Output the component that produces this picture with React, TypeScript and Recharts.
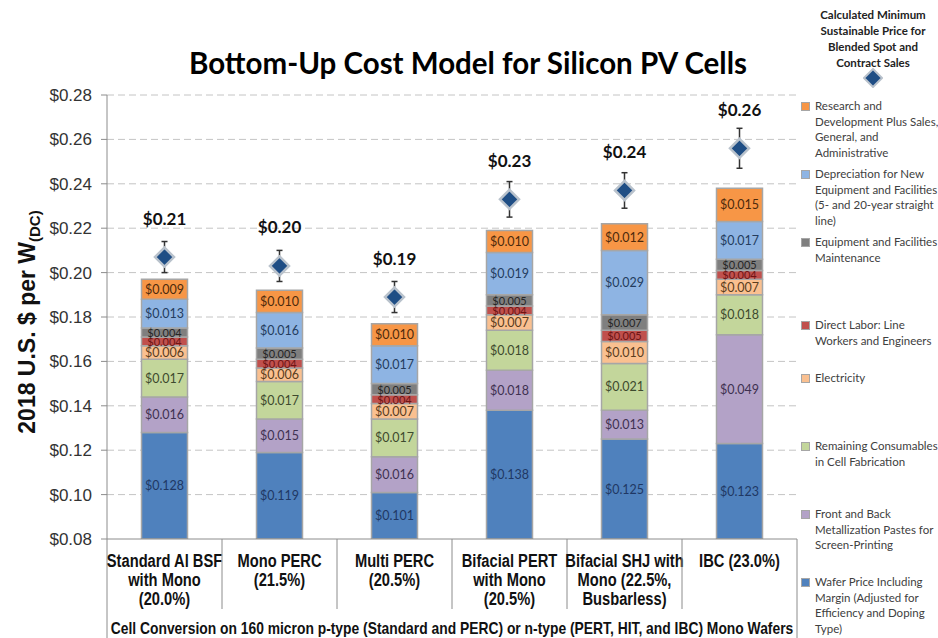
import { Bar, CartesianGrid, ComposedChart, ErrorBar, LabelList, Line, XAxis, YAxis } from "recharts"

// category labels (one entry per line)
const categoryLines = [
  ["Standard Al BSF", "with Mono", "(20.0%)"],
  ["Mono PERC", "(21.5%)"],
  ["Multi PERC", "(20.5%)"],
  ["Bifacial PERT", "with Mono", "(20.5%)"],
  ["Bifacial SHJ with", "Mono (22.5%,", "Busbarless)"],
  ["IBC (23.0%)"],
]
const categories = categoryLines.map((l) => l.join(" "))

// cost components, $/W(DC), bottom of stack first
const wafer = [0.128, 0.119, 0.101, 0.138, 0.125, 0.123]
const pastes = [0.016, 0.015, 0.016, 0.018, 0.013, 0.049]
const consumables = [0.017, 0.017, 0.017, 0.018, 0.021, 0.018]
const electricity = [0.006, 0.006, 0.007, 0.007, 0.01, 0.007]
const labor = [0.004, 0.004, 0.004, 0.004, 0.005, 0.004]
const maintenance = [0.004, 0.005, 0.005, 0.005, 0.007, 0.005]
const depreciation = [0.013, 0.016, 0.017, 0.019, 0.029, 0.017]
const rnd = [0.009, 0.01, 0.01, 0.01, 0.012, 0.015]

// minimum sustainable price and its error
const msp = [0.207, 0.203, 0.189, 0.233, 0.237, 0.256]
const mspError = [0.007, 0.007, 0.007, 0.008, 0.008, 0.009]

const yTicks = [0.08, 0.1, 0.12, 0.14, 0.16, 0.18, 0.2, 0.22, 0.24, 0.26, 0.28]
const gridValues = [
  0.09, 0.1, 0.11, 0.12, 0.13, 0.14, 0.15, 0.16, 0.17, 0.18, 0.19, 0.2, 0.21, 0.22,
  0.23, 0.24, 0.25, 0.26, 0.27, 0.28,
]

const xAxisTitle =
  "Cell Conversion on 160 micron p-type (Standard and PERC) or n-type (PERT, HIT, and IBC) Mono Wafers"
const msspTitle = ["Calculated Minimum", "Sustainable Price for", "Blended Spot and", "Contract Sales"]

const series = [
  { key: "wafer", values: wafer, color: "#4f81bd", text: "#1f3864", small: false },
  { key: "pastes", values: pastes, color: "#b3a2c7", text: "#3f3151", small: false },
  { key: "consumables", values: consumables, color: "#c3d69b", text: "#3e4a2e", small: false },
  { key: "electricity", values: electricity, color: "#fac090", text: "#5a3d1e", small: false },
  { key: "labor", values: labor, color: "#c0504d", text: "#6e1414", small: true },
  { key: "maintenance", values: maintenance, color: "#7f7f7f", text: "#262626", small: true },
  { key: "depreciation", values: depreciation, color: "#8eb4e3", text: "#243c5e", small: false },
  { key: "rnd", values: rnd, color: "#f79646", text: "#4d2a0c", small: false },
]

// legend, top to bottom
const legendItems = [
  { key: "rnd", lines: ["Research and", "Development Plus Sales,", "General, and", "Administrative"] },
  { key: "depreciation", lines: ["Depreciation for New", "Equipment and Facilities", "(5- and 20-year straight", "line)"] },
  { key: "maintenance", lines: ["Equipment and Facilities", "Maintenance"] },
  { key: "labor", lines: ["Direct Labor: Line", "Workers and Engineers"] },
  { key: "electricity", lines: ["Electricity"] },
  { key: "consumables", lines: ["Remaining Consumables", "in Cell Fabrication"] },
  { key: "pastes", lines: ["Front and Back", "Metallization Pastes for", "Screen-Printing"] },
  { key: "wafer", lines: ["Wafer Price Including", "Margin (Adjusted for", "Efficiency and Doping", "Type)"] },
]
const legendTops = [98, 166, 234, 317, 370, 438, 506, 574]

const W = 938
const H = 638
const X_AXIS_H = 99
const Y_AXIS_W = 107
const margin = { top: 95, right: 141, bottom: 0, left: 0 }
const PLOT_TOP = margin.top
const PLOT_BOTTOM = H - X_AXIS_H
const BAND = (W - margin.right - Y_AXIS_W) / categories.length

const FONT = "Lato, 'Open Sans', sans-serif"
const ARIAL = "'Liberation Sans', Arial, sans-serif"
const AXIS_GRAY = "#8c8c8c"

const data = categories.map((name, i) => {
  const row: Record<string, any> = { name, msp: msp[i], mspErr: mspError[i] }
  series.forEach((s) => (row[s.key] = s.values[i]))
  return row
})

const segmentLabel = (color: string, size: number) => (props: any) => {
  const vb = props.viewBox ?? props
  const x = Number(props.x ?? vb.x)
  const y = Number(props.y ?? vb.y)
  const w = Number(props.width ?? vb.width)
  const h = Number(props.height ?? vb.height)
  const top = Math.max(Math.min(y, y + h), PLOT_TOP)
  const bottom = Math.min(Math.max(y, y + h), PLOT_BOTTOM)
  return (
    <text
      x={x + w / 2}
      y={(top + bottom) / 2}
      textAnchor="middle"
      dominantBaseline="central"
      fill={color}
      fontSize={size}
      fontFamily={FONT}
    >
      ${Number(props.value).toFixed(3)}
    </text>
  )
}

const renderDiamond = (props: any) => {
  const { cx, cy, value, index } = props
  const r = 9.5
  return (
    <g key={`msp-${index}`}>
      <path
        d={`M${cx},${cy - r} L${cx + r},${cy} L${cx},${cy + r} L${cx - r},${cy} Z`}
        fill="#1f4e85"
        stroke="#b9c2cc"
        strokeWidth={2.5}
      />
      <text
        x={cx}
        y={cy - 39}
        textAnchor="middle"
        dominantBaseline="central"
        fontSize={17}
        fontWeight={700}
        fontFamily={FONT}
        fill="#111"
      >
        ${Number(value).toFixed(2)}
      </text>
    </g>
  )
}

// narrow bold text (Arial Narrow look-alike)
const NarrowText = ({ x, y, size, children }: any) => (
  <text
    transform={`translate(${x} ${y}) scale(0.84 1)`}
    x={0}
    y={0}
    textAnchor="middle"
    fontSize={size}
    fontWeight={700}
    fontFamily={ARIAL}
    fill="#111"
  >
    {children}
  </text>
)

const XTick = (props: any) => {
  const { x, payload } = props
  const i = categories.indexOf(payload.value)
  const lines = categoryLines[i] ?? []
  return (
    <g>
      <line x1={x - BAND / 2} x2={x - BAND / 2} y1={PLOT_BOTTOM} y2={i === 0 ? H : 609} stroke={AXIS_GRAY} />
      {i === categories.length - 1 && (
        <line x1={x + BAND / 2} x2={x + BAND / 2} y1={PLOT_BOTTOM} y2={H} stroke={AXIS_GRAY} />
      )}
      {lines.map((l, k) => (
        <NarrowText key={k} x={x} y={PLOT_BOTTOM + 28 + k * 19} size={17.5}>
          {l}
        </NarrowText>
      ))}
    </g>
  )
}

const XTitle = (props: any) => {
  const vb = props.viewBox ?? {}
  const cx = Number(vb.x ?? Y_AXIS_W) + Number(vb.width ?? 690) / 2
  return (
    <NarrowText x={cx} y={634} size={16.5}>
      {xAxisTitle}
    </NarrowText>
  )
}

const YTitle = () => {
  const cx = 27
  const cy = 322
  return (
    <text
      x={cx}
      y={cy}
      transform={`rotate(-90, ${cx}, ${cy})`}
      textAnchor="middle"
      dominantBaseline="central"
      fontSize={23}
      fontWeight={700}
      fontFamily={ARIAL}
      fill="#111"
    >
      2018 U.S. $ per W
      <tspan fontSize={15} dy={7}>
        (DC)
      </tspan>
    </text>
  )
}

const LegendPanel = () => (
  <div
    style={{
      position: "absolute",
      left: 795,
      top: 0,
      width: 143,
      height: H,
      fontFamily: FONT,
      color: "#404040",
    }}
  >
    <div
      style={{
        position: "absolute",
        left: 5,
        top: 7,
        width: 146,
        textAlign: "center",
        fontWeight: 700,
        fontSize: 11.5,
        lineHeight: "16px",
        color: "#222",
        whiteSpace: "nowrap",
      }}
    >
      {msspTitle.map((l) => (
        <div key={l}>{l}</div>
      ))}
    </div>
    <svg style={{ position: "absolute", left: 68, top: 68 }} width={20} height={20}>
      <path d="M10,1 L19,10 L10,19 L1,10 Z" fill="#1f4e85" stroke="#b9c2cc" strokeWidth={2} />
    </svg>
    {legendItems.map((item, i) => {
      const s = series.find((x) => x.key === item.key)!
      return (
        <div key={item.key} style={{ position: "absolute", left: 0, top: legendTops[i], whiteSpace: "nowrap" }}>
          <div
            style={{
              position: "absolute",
              left: 6,
              top: 4,
              width: 7,
              height: 7,
              background: s.color,
              border: "1px solid #a6a6a6",
            }}
          />
          <div style={{ position: "absolute", left: 20, top: 0, fontSize: 11.5, lineHeight: "15.5px" }}>
            {item.lines.map((l) => (
              <div key={l}>{l}</div>
            ))}
          </div>
        </div>
      )
    })}
  </div>
)

export default function App() {
  return (
    <div
      style={{
        position: "absolute",
        left: 0,
        top: 0,
        width: W,
        height: H,
        overflow: "hidden",
        background: "#fff",
      }}
    >
      <div
        style={{
          position: "absolute",
          left: 0,
          top: 45,
          width: W - 2,
          textAlign: "center",
          fontFamily: FONT,
          fontWeight: 700,
          fontSize: 29.5,
          lineHeight: "36px",
          color: "#000",
          zIndex: 2,
          pointerEvents: "none",
        }}
      >
        Bottom-Up Cost Model for Silicon PV Cells
      </div>
      <ComposedChart width={W} height={H} data={data} margin={margin} barCategoryGap="30%">
        <CartesianGrid
          horizontal
          vertical={false}
          horizontalValues={gridValues}
          stroke="#c4c4c4"
          strokeDasharray="7 4"
        />
        <XAxis
          dataKey="name"
          interval={0}
          height={X_AXIS_H}
          tick={<XTick />}
          tickLine={false}
          axisLine={{ stroke: AXIS_GRAY }}
          label={<XTitle />}
        />
        <YAxis
          width={Y_AXIS_W}
          domain={[0.08, 0.28]}
          ticks={yTicks}
          allowDataOverflow
          tickFormatter={(v: number) => `$${v.toFixed(2)}`}
          tick={{ fontSize: 17, fill: "#333", fontFamily: ARIAL }}
          tickSize={6}
          tickMargin={9}
          axisLine={{ stroke: AXIS_GRAY }}
          tickLine={{ stroke: AXIS_GRAY }}
          label={<YTitle />}
        />
        {series.map((s) => (
          <Bar
            key={s.key}
            dataKey={s.key}
            stackId="cost"
            fill={s.color}
            stroke="#a6a6a6"
            strokeWidth={1.5}
            isAnimationActive={false}
          >
            <LabelList dataKey={s.key} content={segmentLabel(s.text, s.small ? 11 : 12.5)} />
          </Bar>
        ))}
        <Line dataKey="msp" stroke="none" dot={renderDiamond} activeDot={false} legendType="none" isAnimationActive={false}>
          <ErrorBar dataKey="mspErr" width={3} strokeWidth={1.5} stroke="#333" direction="y" />
        </Line>
      </ComposedChart>
      <LegendPanel />
    </div>
  )
}
